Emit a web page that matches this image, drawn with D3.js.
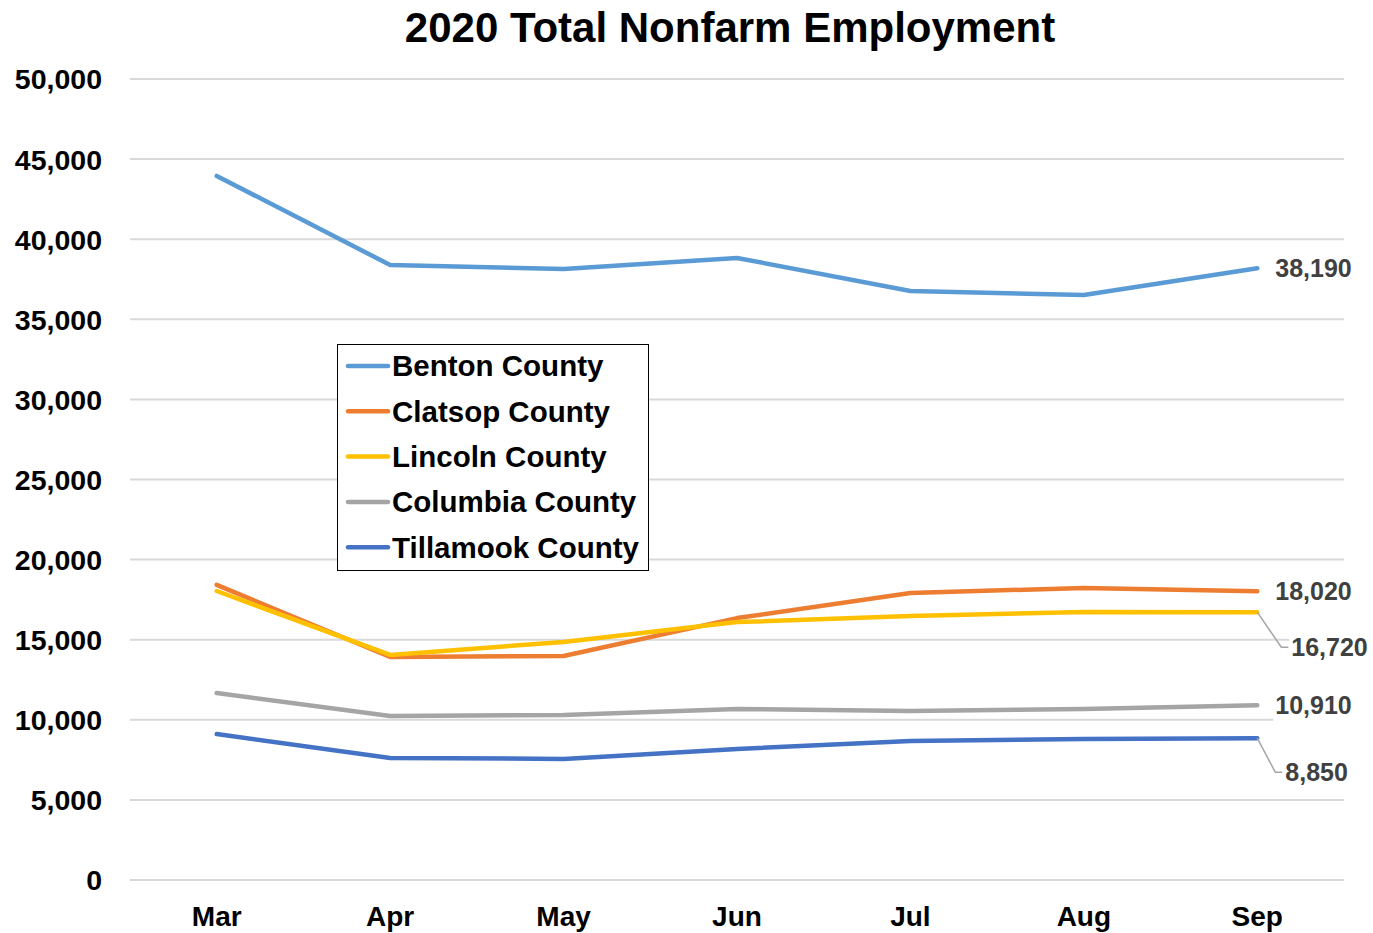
<!DOCTYPE html>
<html><head><meta charset="utf-8">
<script src="https://cdn.jsdelivr.net/npm/d3@7"></script>
<style>body{margin:0;background:#fff}svg{display:block}text{font-family:"Liberation Sans",Arial,sans-serif;font-weight:bold}</style>
</head><body><svg id="c" width="1373" height="933"></svg>
<script>
const months = ["Mar","Apr","May","Jun","Jul","Aug","Sep"];
const seriesNames = ["Benton County","Clatsop County","Lincoln County","Columbia County","Tillamook County"];
const benton   = [43950,38390,38140,38830,36770,36520,38190];
const clatsop  = [18420,13920,13980,16350,17920,18230,18020];
const lincoln  = [18040,14050,14860,16100,16480,16730,16720];
const columbia = [11670,10240,10300,10670,10550,10670,10910];
const tillamook= [9110,7620,7560,8180,8680,8800,8850];
const yTicks = [0,5000,10000,15000,20000,25000,30000,35000,40000,45000,50000];
const colors = ["#5B9BD5","#ED7D31","#FFC000","#A5A5A5","#4472C4"];
const series = [benton,clatsop,lincoln,columbia,tillamook];

const svg = d3.select("#c");
const x = d3.scaleBand().domain(months).range([130,1344]);
const y = d3.scaleLinear().domain([0,50000]).range([880,79]);
const fmt = d3.format(",");

svg.append("text").attr("x",730).attr("y",42).attr("text-anchor","middle").attr("font-size",42).attr("fill","#000").text("2020 Total Nonfarm Employment");

// gridlines
svg.append("g").selectAll("line").data(yTicks).join("line")
  .attr("x1",130).attr("x2",1344).attr("y1",d=>y(d)).attr("y2",d=>y(d))
  .attr("stroke","#D9D9D9").attr("stroke-width",2);

// y axis labels
const yAxis = d3.axisLeft(y).tickValues(yTicks).tickFormat(fmt).tickSize(0).tickPadding(0);
const ga = svg.append("g").attr("transform","translate(102,0)").call(yAxis);
ga.select(".domain").remove();
ga.selectAll("text").attr("font-size",28.5).attr("fill","#000").attr("font-family","Liberation Sans, Arial").attr("font-weight","bold").attr("dy","0.35em");

// x axis labels
const xAxis = d3.axisBottom(x).tickSize(0).tickPadding(0);
const gx = svg.append("g").attr("transform","translate(0,916)").call(xAxis);
gx.select(".domain").remove();
gx.selectAll("text").attr("font-size",28).attr("fill","#000").attr("font-family","Liberation Sans, Arial").attr("font-weight","bold").attr("dy","0.35em");

const cx = m => x(m)+x.bandwidth()/2;
const line = d3.line().x((d,i)=>cx(months[i])).y(d=>y(d));
svg.append("g").selectAll("path").data(series).join("path")
  .attr("d",line).attr("fill","none").attr("stroke",(d,i)=>colors[i])
  .attr("stroke-width",4.5).attr("stroke-linejoin","round").attr("stroke-linecap","round");

// data labels
const last = months.length-1, xs = cx(months[last]);
const labels = [
  {s:0, dx:18, dy:0, leader:false},
  {s:1, dx:18, dy:0, leader:false},
  {s:2, dx:34, dy:35, leader:true},
  {s:3, dx:18, dy:0, leader:false},
  {s:4, dx:28, dy:34, leader:true}
];
const gl = svg.append("g");
labels.forEach(l=>{
  const v = series[l.s][last];
  const py = y(v), tx = xs + l.dx, ty = py + l.dy;
  if(l.leader){
    gl.append("path").attr("d",`M${xs},${py}L${tx-10},${ty}L${tx-3},${ty}`)
      .attr("fill","none").attr("stroke","#A6A6A6").attr("stroke-width",1.5);
  }
  const t = gl.append("text").attr("x",tx).attr("y",ty).attr("dy","0.35em")
    .attr("font-size",25).attr("fill","#404040").text(fmt(v));
  const bb = t.node().getBBox();
  gl.insert("rect","text:last-child").attr("x",bb.x-2).attr("y",bb.y-2).attr("width",bb.width+4).attr("height",bb.height+4).attr("fill","#fff");
});

// legend
const lg = svg.append("g");
lg.append("rect").attr("x",337.5).attr("y",344.5).attr("width",311).attr("height",226).attr("fill","#fff").attr("stroke","#000").attr("stroke-width",1);
seriesNames.forEach((n,i)=>{
  const yy = 366 + i*45.3;
  lg.append("line").attr("x1",348).attr("x2",388).attr("y1",yy).attr("y2",yy).attr("stroke",colors[i]).attr("stroke-width",4.5).attr("stroke-linecap","round");
  lg.append("text").attr("x",392).attr("y",yy).attr("dy","0.35em").attr("font-size",29.5).attr("fill","#000").text(n);
});
</script></body></html>
